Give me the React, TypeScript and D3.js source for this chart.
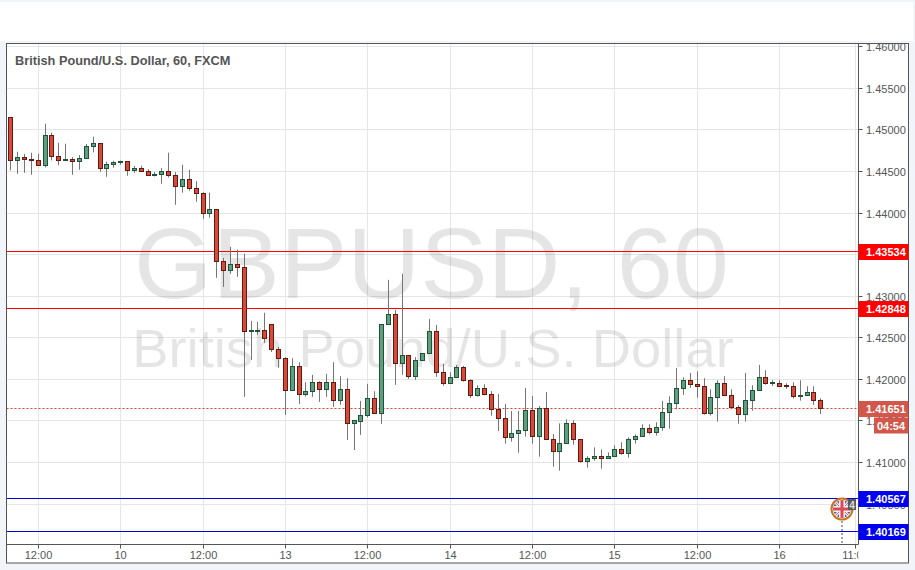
import React, { useEffect, useRef } from 'react';
import * as d3 from 'd3';

const opens = [
  1.45154, 1.44633, 1.44673, 1.44649, 1.44637, 1.44573, 1.44938, 1.44685, 1.44633, 1.44649,
  1.44621, 1.44661, 1.44801, 1.44841, 1.44536, 1.44585, 1.44609, 1.44625, 1.44508, 1.4454,
  1.44504, 1.44456, 1.44468, 1.44504, 1.44456, 1.4432, 1.44408, 1.44296, 1.4424, 1.43995,
  1.44047, 1.43417, 1.43309, 1.43385, 1.43349, 1.42575, 1.42575, 1.42591, 1.42663, 1.42362,
  1.42254, 1.41865, 1.42158, 1.41817, 1.41853, 1.41965, 1.41877, 1.41965, 1.41745, 1.41881,
  1.41468, 1.41492, 1.41564, 1.41773, 1.41588, 1.42659, 1.42784, 1.4219, 1.4229, 1.42033,
  1.4223, 1.4231, 1.42579, 1.42085, 1.41949, 1.42021, 1.42145, 1.41989, 1.41804, 1.41892,
  1.4182, 1.4164, 1.41531, 1.41299, 1.41347, 1.41383, 1.41628, 1.41311, 1.41652, 1.41279,
  1.4113, 1.41227, 1.41471, 1.41279, 1.4101, 1.41046, 1.41074, 1.41046, 1.4107, 1.41158,
  1.41106, 1.41275, 1.41311, 1.41411, 1.41359, 1.41419, 1.416, 1.41708, 1.41889, 1.41989,
  1.41941, 1.41917, 1.41588, 1.4178, 1.41953, 1.41809, 1.41664, 1.41576, 1.41744, 1.41865,
  1.42025, 1.41953, 1.41953, 1.41921, 1.41917, 1.41792, 1.41805, 1.41845, 1.41748,
];
const closes = [
  1.44633, 1.44673, 1.44645, 1.44633, 1.44577, 1.44938, 1.44681, 1.44633, 1.44649, 1.44621,
  1.44661, 1.44805, 1.44841, 1.44536, 1.44589, 1.44613, 1.44625, 1.44512, 1.4454, 1.445,
  1.44456, 1.44468, 1.44504, 1.44452, 1.4432, 1.44408, 1.44296, 1.44236, 1.43995, 1.44047,
  1.43417, 1.43309, 1.43385, 1.43345, 1.42579, 1.42583, 1.42591, 1.42491, 1.42358, 1.4225,
  1.41865, 1.42158, 1.41817, 1.41857, 1.41965, 1.41877, 1.41965, 1.41745, 1.41881, 1.41468,
  1.415, 1.41568, 1.41773, 1.41588, 1.42663, 1.42784, 1.4219, 1.4229, 1.42033, 1.4223,
  1.42314, 1.42579, 1.42082, 1.41949, 1.42025, 1.42145, 1.41985, 1.41804, 1.41892, 1.41816,
  1.4164, 1.41527, 1.41299, 1.41351, 1.41387, 1.41628, 1.41311, 1.41652, 1.41275, 1.4113,
  1.41231, 1.41471, 1.41275, 1.4101, 1.4105, 1.41074, 1.41046, 1.41074, 1.41158, 1.41106,
  1.41279, 1.41315, 1.41411, 1.41359, 1.41423, 1.41604, 1.41712, 1.41893, 1.41989, 1.41937,
  1.41913, 1.41588, 1.41784, 1.41953, 1.41809, 1.4166, 1.41576, 1.41748, 1.41869, 1.42025,
  1.41949, 1.41957, 1.41917, 1.41917, 1.41792, 1.41809, 1.41845, 1.41744, 1.41651,
];
const highs = [
  1.45154, 1.44737, 1.44709, 1.44725, 1.44713, 1.45074, 1.44966, 1.44845, 1.44833, 1.44673,
  1.44697, 1.44829, 1.44917, 1.44841, 1.44617, 1.44629, 1.44629, 1.44625, 1.44565, 1.44569,
  1.44528, 1.44492, 1.4454, 1.44725, 1.44492, 1.44581, 1.4452, 1.44384, 1.44252, 1.44244,
  1.44047, 1.43461, 1.43594, 1.43558, 1.4351, 1.42703, 1.42691, 1.428, 1.42663, 1.4239,
  1.42266, 1.42254, 1.42206, 1.41965, 1.42054, 1.41977, 1.42066, 1.42206, 1.42038, 1.42013,
  1.41512, 1.41741, 1.41945, 1.41857, 1.42663, 1.43197, 1.42836, 1.43269, 1.4229, 1.42266,
  1.42314, 1.42727, 1.42655, 1.42185, 1.42085, 1.42173, 1.42161, 1.42001, 1.41929, 1.41941,
  1.4186, 1.41824, 1.41704, 1.4162, 1.4162, 1.41896, 1.418, 1.4168, 1.41848, 1.41343,
  1.41471, 1.41519, 1.41507, 1.41279, 1.41074, 1.41182, 1.41158, 1.41122, 1.41207, 1.41243,
  1.41303, 1.41339, 1.41459, 1.4146, 1.41484, 1.4174, 1.41796, 1.42137, 1.42025, 1.42077,
  1.42097, 1.42013, 1.41881, 1.41989, 1.42037, 1.41881, 1.41688, 1.42077, 1.41929, 1.42174,
  1.42109, 1.41989, 1.41989, 1.41953, 1.41965, 1.41989, 1.41917, 1.41917, 1.41772,
];
const lows = [
  1.44512, 1.44472, 1.44484, 1.4446, 1.44577, 1.44548, 1.44633, 1.44573, 1.44633, 1.4446,
  1.4452, 1.44661, 1.44729, 1.44496, 1.44436, 1.44544, 1.44581, 1.44448, 1.44484, 1.44496,
  1.44452, 1.4444, 1.44352, 1.44428, 1.44099, 1.44244, 1.44268, 1.44135, 1.43931, 1.43943,
  1.43221, 1.43112, 1.43269, 1.43233, 1.41789, 1.42234, 1.42535, 1.42439, 1.4233, 1.42138,
  1.41572, 1.41865, 1.41705, 1.41793, 1.41789, 1.41729, 1.41789, 1.41669, 1.41693, 1.41271,
  1.41151, 1.41332, 1.4154, 1.41588, 1.41464, 1.42659, 1.41933, 1.42054, 1.42005, 1.41993,
  1.4223, 1.4231, 1.42029, 1.41924, 1.41949, 1.42021, 1.41973, 1.41776, 1.41792, 1.41808,
  1.41564, 1.41379, 1.41227, 1.41251, 1.41118, 1.41311, 1.41227, 1.4107, 1.41275, 1.4095,
  1.40902, 1.41227, 1.41215, 1.40998, 1.40938, 1.41022, 1.40926, 1.41046, 1.4107, 1.41094,
  1.41058, 1.41227, 1.41311, 1.41339, 1.41323, 1.41383, 1.41407, 1.4164, 1.41813, 1.41897,
  1.4178, 1.41576, 1.41564, 1.41492, 1.41809, 1.4164, 1.41468, 1.41492, 1.41624, 1.41865,
  1.41937, 1.41921, 1.41913, 1.41885, 1.41768, 1.41744, 1.41805, 1.41692, 1.41584,
];

// 1.435 has its gridline only, its label sits under the red 1.43534 tag
const priceTicks = [1.46, 1.455, 1.45, 1.445, 1.44, 1.435, 1.43, 1.425, 1.42, 1.415, 1.41, 1.405];
const priceLabels = [1.46, 1.455, 1.45, 1.445, 1.44, 1.43, 1.425, 1.42, 1.415, 1.41, 1.405];
const timeTicks = [4, 16, 28, 40, 52, 64, 76, 88, 100, 112, 123];
const timeLabels = ['12:00', '10', '12:00', '13', '12:00', '14', '12:00', '15', '12:00', '16', '11:00'];
const redLevels = [1.43534, 1.42848];
const blueLevels = [1.40567, 1.40169];
const lastPrice = 1.41651;
const countdown = '04:54';

const App: React.FC = () => {
  const chartRef = useRef<SVGSVGElement>(null);

  useEffect(() => {
    if (!chartRef.current) return;
    const svg = d3.select(chartRef.current);
    svg.selectAll('*').remove();

    const left = 6.5;
    const right = 858.5;
    const top = 43.5;
    const bottom = 544.5;
    const font = '"Liberation Sans", Arial, sans-serif';

    const x = d3.scaleLinear().domain([0, 118]).range([10.3, 820.3]);
    const y = d3.scaleLinear().domain([1.41, 1.46]).range([462.5, 46.7]);
    const px = (i: number) => Math.round(x(i));
    const py = (p: number) => Math.floor(y(p)) + 0.5;

    // page and panels
    svg.append('rect').attr('width', 915).attr('height', 570).attr('fill', '#f1f4f8');
    svg.append('rect').attr('x', 0).attr('y', 2).attr('width', 913).attr('height', 39).attr('fill', '#fff');
    svg.append('rect').attr('x', left).attr('y', top).attr('width', 908.5 - left).attr('height', 563 - top).attr('fill', '#fff');

    // grid
    const grid = svg.append('g').attr('stroke', '#e6e6e6').attr('stroke-width', 1);
    grid.selectAll('line.h').data(priceTicks).enter().append('line')
      .attr('x1', left).attr('x2', right).attr('y1', py).attr('y2', py);
    grid.selectAll('line.v').data(timeTicks).enter().append('line')
      .attr('x1', (d) => px(d) + 0.5).attr('x2', (d) => px(d) + 0.5).attr('y1', top).attr('y2', bottom);

    // watermark
    svg.append('text').attr('x', 431.5).attr('y', 298).attr('text-anchor', 'middle')
      .attr('font-family', font).attr('font-size', 101).attr('fill', 'rgba(0,0,0,0.1)').text('GBPUSD, 60');
    svg.append('text').attr('x', 433).attr('y', 367).attr('text-anchor', 'middle')
      .attr('font-family', font).attr('font-size', 54.4).attr('fill', 'rgba(0,0,0,0.1)').text('British Pound/U.S. Dollar');

    svg.append('text').attr('x', 15).attr('y', 65).attr('font-family', font).attr('font-size', 12.75)
      .attr('font-weight', 'bold').attr('fill', '#555').text('British Pound/U.S. Dollar, 60, FXCM');

    // level lines
    svg.selectAll('line.red').data(redLevels).enter().append('line')
      .attr('x1', left).attr('x2', right).attr('y1', py).attr('y2', py).attr('stroke', '#f00');
    svg.selectAll('line.blue').data(blueLevels).enter().append('line')
      .attr('x1', left).attr('x2', right).attr('y1', py).attr('y2', py).attr('stroke', '#0000d8');
    svg.append('line').attr('x1', left).attr('x2', right).attr('y1', py(lastPrice)).attr('y2', py(lastPrice))
      .attr('stroke', '#e0402f').attr('stroke-dasharray', '2,2');

    // candles
    const candles = svg.append('g').selectAll('g').data(d3.range(opens.length)).enter().append('g');
    candles.append('line')
      .attr('x1', (i) => px(i) + 0.5).attr('x2', (i) => px(i) + 0.5)
      .attr('y1', (i) => y(highs[i])).attr('y2', (i) => y(lows[i]))
      .attr('stroke', '#757575');
    candles.append('rect')
      .attr('x', (i) => px(i) - 1.5).attr('width', 4)
      .attr('y', (i) => py(Math.max(opens[i], closes[i])))
      .attr('height', (i) => Math.max(1, py(Math.min(opens[i], closes[i])) - py(Math.max(opens[i], closes[i]))))
      .attr('fill', (i) => (closes[i] < opens[i] ? '#d9493a' : '#5d9f7e'))
      .attr('stroke', (i) => (closes[i] < opens[i] ? '#5f1a12' : '#1f5236'));

    // event marker
    const mx = 842;
    const my = 509;
    svg.append('line').attr('x1', mx).attr('x2', mx).attr('y1', my + 12).attr('y2', bottom)
      .attr('stroke', '#a0a0a0').attr('stroke-width', 2).attr('stroke-dasharray', '2,2');
    const clip = svg.append('clipPath').attr('id', 'flag');
    clip.append('circle').attr('cx', mx).attr('cy', my).attr('r', 9);
    const flag = svg.append('g').attr('clip-path', 'url(#flag)');
    flag.append('rect').attr('x', mx - 10).attr('y', my - 10).attr('width', 20).attr('height', 20).attr('fill', '#4a5fa8');
    const cross = d3.path();
    cross.moveTo(mx - 10, my - 10); cross.lineTo(mx + 10, my + 10);
    cross.moveTo(mx + 10, my - 10); cross.lineTo(mx - 10, my + 10);
    flag.append('path').attr('d', cross.toString()).attr('stroke', '#f4f0f0').attr('stroke-width', 3);
    flag.append('path').attr('d', cross.toString()).attr('stroke', '#d8606a').attr('stroke-width', 1);
    flag.append('rect').attr('x', mx - 10).attr('y', my - 3).attr('width', 20).attr('height', 6).attr('fill', '#f4f0f0');
    flag.append('rect').attr('x', mx - 3).attr('y', my - 10).attr('width', 6).attr('height', 20).attr('fill', '#f4f0f0');
    flag.append('rect').attr('x', mx - 10).attr('y', my - 1.5).attr('width', 20).attr('height', 3).attr('fill', '#d84a55');
    flag.append('rect').attr('x', mx - 1.5).attr('y', my - 10).attr('width', 3).attr('height', 20).attr('fill', '#d84a55');
    svg.append('circle').attr('cx', mx).attr('cy', my).attr('r', 10.5).attr('fill', 'none')
      .attr('stroke', '#c8741a').attr('stroke-width', 2);
    svg.append('rect').attr('x', 848).attr('y', 499).attr('width', 8).attr('height', 11).attr('fill', '#5a5a5a');
    svg.append('text').attr('x', 852).attr('y', 508.5).attr('text-anchor', 'middle').attr('font-family', font)
      .attr('font-size', 10).attr('font-weight', 'bold').attr('fill', '#ddd').text('4');

    // frame
    const frame = svg.append('g').attr('fill', 'none').attr('stroke', '#555');
    frame.append('rect').attr('x', left).attr('y', top).attr('width', 908.5 - left).attr('height', 563 - top);
    frame.append('line').attr('x1', right).attr('x2', right).attr('y1', top).attr('y2', bottom);
    frame.append('line').attr('x1', left).attr('x2', right).attr('y1', bottom).attr('y2', bottom);

    // price axis
    const axisText = svg.append('g').attr('font-family', font).attr('font-size', 11).attr('fill', '#555');
    axisText.selectAll('text').data(priceLabels).enter().append('text')
      .attr('x', 866).attr('y', (d) => y(d) + 4.5).text((d) => d3.format('.5f')(d));
    svg.selectAll('line.tick').data(priceTicks).enter().append('line')
      .attr('x1', right).attr('x2', right + 4).attr('y1', py).attr('y2', py).attr('stroke', '#555');

    // time axis, the last label is cut by the price axis
    const timeClip = svg.append('clipPath').attr('id', 'time');
    timeClip.append('rect').attr('x', 0).attr('y', bottom).attr('width', right).attr('height', 19);
    const timeAxis = svg.append('g').attr('clip-path', 'url(#time)').attr('font-family', font)
      .attr('font-size', 11).attr('fill', '#555').attr('text-anchor', 'middle');
    timeAxis.selectAll('text').data(timeTicks).enter().append('text')
      .attr('x', (d) => px(d) + 0.5).attr('y', 559).text((_, i) => timeLabels[i]);
    svg.selectAll('line.ttick').data(timeTicks).enter().append('line')
      .attr('x1', (d) => px(d) + 0.5).attr('x2', (d) => px(d) + 0.5).attr('y1', bottom).attr('y2', bottom + 4).attr('stroke', '#555');

    // coloured price labels
    const tag = (price: number, fill: string) => {
      const cy = Math.floor(y(price));
      svg.append('rect').attr('x', right).attr('y', cy - 7).attr('width', 50).attr('height', 16).attr('fill', fill);
      svg.append('text').attr('x', 866).attr('y', cy + 5).attr('font-family', font).attr('font-size', 11)
        .attr('font-weight', 'bold').attr('fill', '#fff').text(d3.format('.5f')(price));
    };
    redLevels.forEach((p) => tag(p, '#f00'));
    blueLevels.forEach((p) => tag(p, '#0000f0'));
    tag(lastPrice, '#d2574a');
    svg.append('rect').attr('x', 874).attr('y', 417.5).attr('width', 34.5).attr('height', 16).attr('fill', '#d2574a');
    svg.append('text').attr('x', 891).attr('y', 430).attr('text-anchor', 'middle').attr('font-family', font)
      .attr('font-size', 11).attr('font-weight', 'bold').attr('fill', '#fff').text(countdown);
  }, []);

  return (
    <svg
      ref={chartRef}
      width={915}
      height={570}
      style={{ position: 'absolute', left: 0, top: 0 }}
    ></svg>
  );
};

export default App;
